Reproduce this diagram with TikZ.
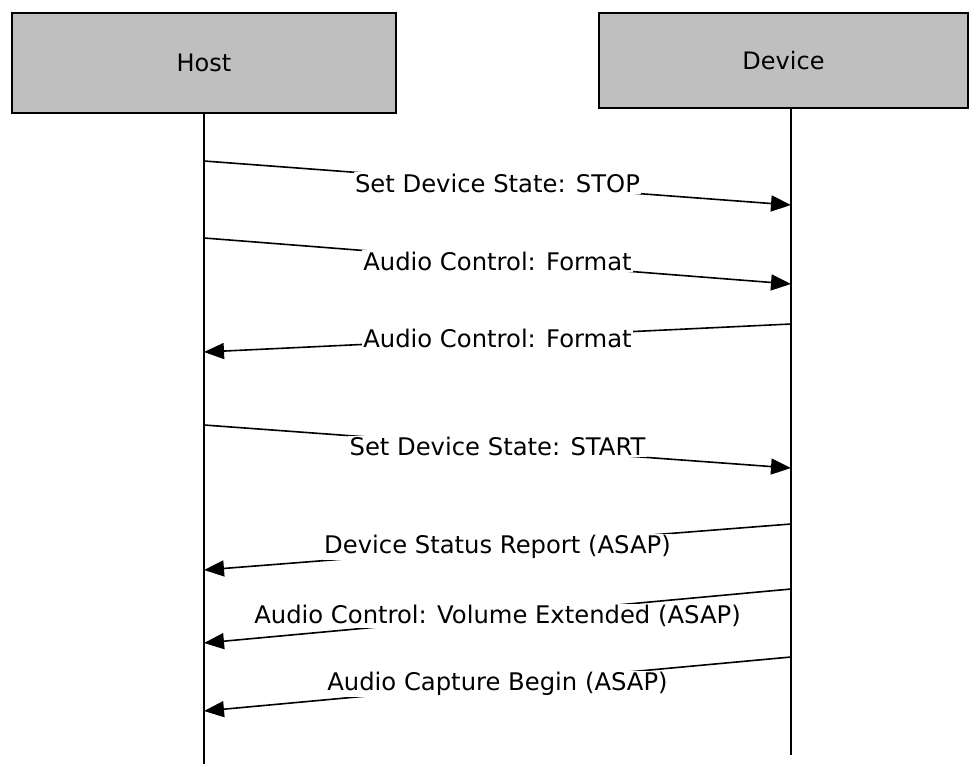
\documentclass[tikz,border=0pt]{standalone}
\usepackage{fontspec}
\setmainfont{DejaVu Sans}
\usetikzlibrary{arrows.meta}
\definecolor{boxgray}{RGB}{191,191,191}
\tikzset{
    lane/.style={draw, line width=1.3pt, fill=boxgray, inner sep=0pt, font=\fontsize{18}{21}\selectfont},
    lifeline/.style={line width=1.3pt},
    msg/.style={line width=1.2pt, -{Triangle[length=15pt,width=12pt]}},
    msglabel/.style={midway, fill=white, inner sep=1pt, font=\fontsize{18.2}{21}\selectfont},
}

\begin{document}
\begin{tikzpicture}[x=0.75pt, y=-0.75pt]
    \useasboundingbox (0,0) rectangle (974,764);
    \node[lane, minimum width=288pt, minimum height=75pt] (host) at (204,63) {Host};
    \node[lane, minimum width=276.75pt, minimum height=71.25pt] (device) at (783.5,60.5) {Device};
    \coordinate (hostend) at (204,764);
    \coordinate (devend) at (791,755);
    \draw[lifeline] (host.south) -- (hostend);
    \draw[lifeline] (device.south -| devend) -- (devend);
    % message ends on the two lifelines
    \coordinate (h1) at (204,161); \coordinate (d1) at (791,205);
    \coordinate (h2) at (204,238); \coordinate (d2) at (791,284);
    \coordinate (h3) at (204,352); \coordinate (d3) at (791,324);
    \coordinate (h4) at (204,425); \coordinate (d4) at (791,468);
    \coordinate (h5) at (204,570); \coordinate (d5) at (791,524);
    \coordinate (h6) at (204,643); \coordinate (d6) at (791,589);
    \coordinate (h7) at (204,711); \coordinate (d7) at (791,657);
    \draw[msg] (h1) -- node[msglabel] {Set Device State: STOP} (d1);
    \draw[msg] (h2) -- node[msglabel] {Audio Control: Format} (d2);
    \draw[msg] (d3) -- node[msglabel] {Audio Control: Format} (h3);
    \draw[msg] (h4) -- node[msglabel] {Set Device State: START} (d4);
    \draw[msg] (d5) -- node[msglabel] {Device Status Report (ASAP)} (h5);
    \draw[msg] (d6) -- node[msglabel] {Audio Control: Volume Extended (ASAP)} (h6);
    \draw[msg] (d7) -- node[msglabel] {Audio Capture Begin (ASAP)} (h7);
\end{tikzpicture}
\end{document}
